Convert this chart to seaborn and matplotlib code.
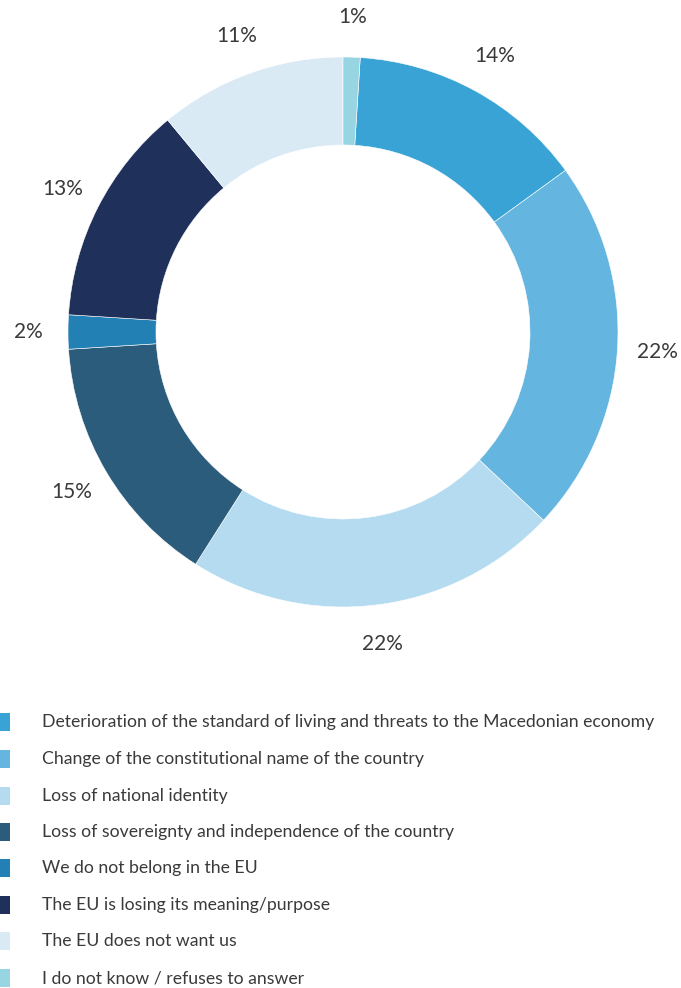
import matplotlib
matplotlib.use("Agg")
import matplotlib.pyplot as plt
from matplotlib.patches import Rectangle
import numpy as np
import seaborn as sns

categories = [
    "Deterioration of the standard of living and threats to the Macedonian economy",
    "Change of the constitutional name of the country",
    "Loss of national identity",
    "Loss of sovereignty and independence of the country",
    "We do not belong in the EU",
    "The EU is losing its meaning/purpose",
    "The EU does not want us",
    "I do not know / refuses to answer",
]
values = [14, 22, 22, 15, 2, 13, 11, 1]
palette = ["#3aa3d6", "#64b5e0", "#b4dbf0", "#2c5c7c", "#2380b4",
           "#1f305a", "#d9eaf5", "#98d5e3"]

sns.set_theme(style="white")
plt.rcParams["font.family"] = ["Lato", "DejaVu Sans"]
text_color = "#3a3a3a"

W, H = 681, 988
fig = plt.figure(figsize=(W / 100, H / 100), dpi=100)
fig.patch.set_facecolor("white")

# donut axes: centre (343, 332) px, outer radius 275 px
cx, cy, r = 343, 332, 275
ax = fig.add_axes([(cx - r) / W, (H - cy - r) / H, 2 * r / W, 2 * r / H])
colors = sns.color_palette(palette)
total = sum(values)
start = 90 - 360 * values[-1] / total
wedges, _ = ax.pie(values, colors=colors, startangle=start, counterclock=False,
                   radius=1.0, wedgeprops=dict(width=0.32, edgecolor="white",
                                               linewidth=0.4))
ax.set_xlim(-1, 1)
ax.set_ylim(-1, 1)
ax.set_aspect("equal")
ax.axis("off")

for w, v in zip(wedges, values):
    mid = np.deg2rad((w.theta1 + w.theta2) / 2)
    d = 1.145
    ax.text(d * np.cos(mid), d * np.sin(mid), f"{v}%", ha="center",
            va="center", fontsize=15, color=text_color, clip_on=False)

# legend rows
row_y = [722, 759, 796, 832, 868, 905, 941, 978]
for name, col, y in zip(categories, colors, row_y):
    fig.add_artist(Rectangle((0, 1 - (y + 9) / H), 10 / W, 18 / H,
                             transform=fig.transFigure, color=col, lw=0))
    fig.text(42 / W, 1 - y / H, name, ha="left", va="center",
             fontsize=12.7, color=text_color)

fig.savefig("out.png", dpi=100, facecolor="white")
